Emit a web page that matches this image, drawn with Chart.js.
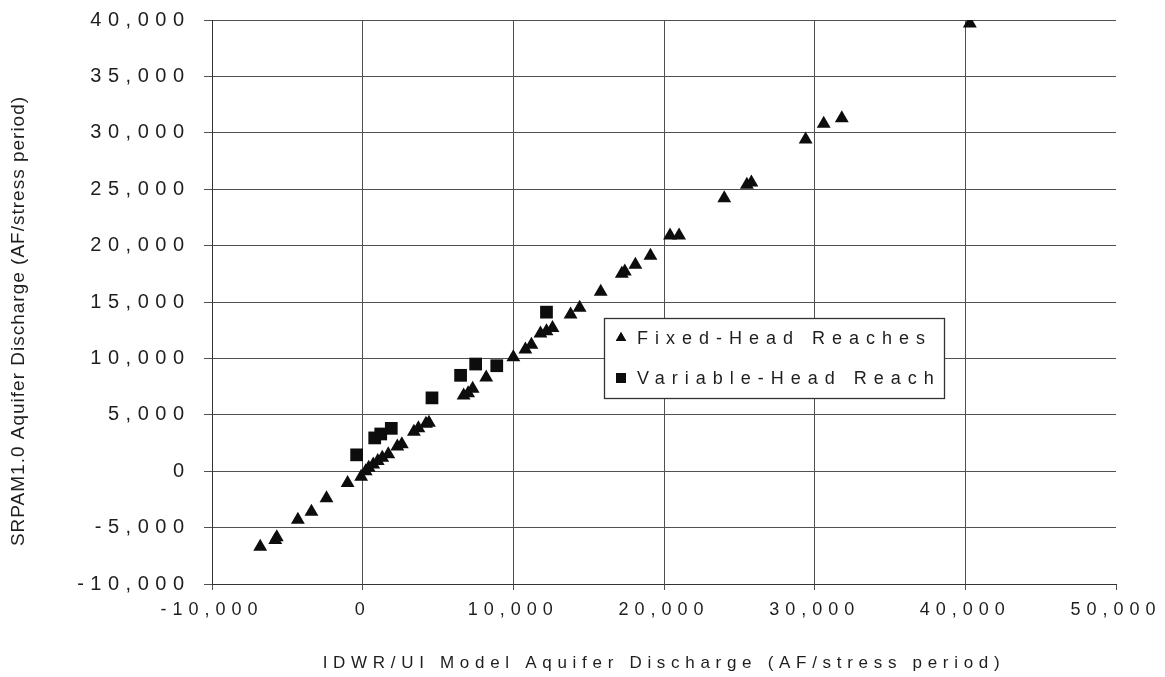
<!DOCTYPE html>
<html>
<head>
<meta charset="utf-8">
<script src="https://cdn.jsdelivr.net/npm/chart.js@4.4.1/dist/chart.umd.min.js"></script>
<style>
  html, body { margin: 0; padding: 0; background: #ffffff; }
  #wrap { width: 1165px; height: 677px; }
</style>
</head>
<body>
<div id="wrap"><canvas id="c" width="1165" height="677"></canvas></div>
<script>
// ---- Data ----
const fixedLabel = 'Fixed-Head Reaches';
const fixedX = [-6800, -5800, -5700, -4300, -3400, -2400, -1000, -100, 200, 400, 700, 1000, 1300, 1700,
  2300, 2600, 3400, 3700, 4200, 4400, 6700, 7000, 7300, 8200, 10000, 10800, 11200, 11800, 12200, 12600,
  13800, 14400, 15800, 17200, 17400, 18100, 19100, 20400, 21000, 24000, 25500, 25800, 29400, 30600, 31800, 40300];
const fixedY = [-6700, -6100, -5850, -4300, -3600, -2400, -1050, -500, 0, 300, 600, 900, 1200, 1500,
  2200, 2400, 3500, 3800, 4200, 4300, 6700, 6900, 7300, 8300, 10100, 10800, 11200, 12200, 12400, 12700,
  13900, 14500, 15900, 17500, 17700, 18300, 19100, 20900, 20900, 24200, 25400, 25600, 29400, 30800, 31300, 39700];

const variableLabel = 'Variable-Head Reach';
const variableX = [-400, 800, 1200, 1900, 4600, 6500, 7500, 8900, 12200];
const variableY = [1450, 2950, 3300, 3800, 6500, 8500, 9500, 9350, 14100];

const xTickValues = [-10000, 0, 10000, 20000, 30000, 40000, 50000];
const yTickValues = [-10000, -5000, 0, 5000, 10000, 15000, 20000, 25000, 30000, 35000, 40000];

const xTitle = 'IDWR/UI Model Aquifer Discharge (AF/stress period)';
const yTitle = 'SRPAM1.0 Aquifer Discharge (AF/stress period)';

// ---- Styling ----
const FONT = 'Arial, "Liberation Sans", sans-serif';
const TEXT = '#1e1e1e';
const GRID = '#505050';
const MARK = '#0d0d0d';

const fmt = v => Number(v).toLocaleString('en-US');

function wrapMethod(scale, name, spacing, dy) {
  const flag = '_wrapped_' + name;
  if (!scale || scale[flag]) return;
  const orig = scale[name].bind(scale);
  scale[name] = function (...a) {
    const c = this.ctx;
    c.save();
    c.letterSpacing = spacing;
    if (dy) c.translate(0, dy);
    orig(...a);
    c.restore();
  };
  scale[flag] = true;
}

const spacingPlugin = {
  id: 'spacing',
  beforeDraw(chart) {
    wrapMethod(chart.scales.y, 'drawTitle', '1px', 19);
    wrapMethod(chart.scales.x, 'drawTitle', '5.7px', 0);
    wrapMethod(chart.scales.y, 'drawLabels', '6.5px', 0);
    wrapMethod(chart.scales.x, 'drawLabels', '6px', 0);
  }
};

const boxLegendPlugin = {
  id: 'boxLegend',
  afterDraw(chart, args, opts) {
    const ctx = chart.ctx;
    ctx.save();
    ctx.letterSpacing = '0px';
    ctx.fillStyle = '#ffffff';
    ctx.fillRect(opts.left, opts.top, opts.width, opts.height);
    ctx.strokeStyle = '#333333';
    ctx.lineWidth = 1.3;
    ctx.strokeRect(opts.left + 0.5, opts.top + 0.5, opts.width, opts.height);
    chart.data.datasets.forEach((ds, i) => {
      const cy = opts.top + opts.firstRow + i * opts.rowGap;
      ctx.fillStyle = MARK;
      ctx.strokeStyle = MARK;
      Chart.helpers.drawPoint(ctx, { pointStyle: ds.pointStyle, radius: opts.markerRadius[i], borderWidth: 0, rotation: 0 },
        opts.left + opts.markerX, cy);
      ctx.fill();
      ctx.letterSpacing = opts.letterSpacing;
      ctx.font = opts.font;
      ctx.fillStyle = TEXT;
      ctx.textAlign = 'left';
      ctx.textBaseline = 'middle';
      ctx.fillText(ds.label, opts.left + opts.textX, cy + 1);
      ctx.letterSpacing = '0px';
    });
    ctx.restore();
  }
};

new Chart(document.getElementById('c'), {
  type: 'scatter',
  data: {
    datasets: [
      {
        label: fixedLabel,
        data: fixedX.map((x, i) => ({ x: x, y: fixedY[i] })),
        pointStyle: 'triangle',
        pointRadius: 8,
        pointHoverRadius: 8,
        backgroundColor: MARK,
        borderColor: MARK,
        borderWidth: 0
      },
      {
        label: variableLabel,
        data: variableX.map((x, i) => ({ x: x, y: variableY[i] })),
        pointStyle: 'rect',
        pointRadius: 9,
        pointHoverRadius: 9,
        backgroundColor: MARK,
        borderColor: MARK,
        borderWidth: 0
      }
    ]
  },
  options: {
    responsive: false,
    devicePixelRatio: 1,
    animation: false,
    events: [],
    layout: { padding: { left: 0, right: 49, top: 20, bottom: 0 } },
    plugins: {
      legend: { display: false },
      tooltip: { enabled: false },
      boxLegend: {
        left: 604, top: 318, width: 340, height: 80,
        firstRow: 20, rowGap: 40, markerX: 17, textX: 33,
        markerRadius: [6, 7],
        font: '18px ' + FONT,
        letterSpacing: '7px'
      }
    },
    scales: {
      x: {
        type: 'linear',
        min: -10000,
        max: 50000,
        afterBuildTicks: s => { s.ticks = xTickValues.map(v => ({ value: v })); },
        afterFit: s => { s.height = 93; },
        ticks: {
          callback: v => fmt(v),
          font: { family: FONT, size: 18 },
          color: TEXT,
          padding: 9,
          maxRotation: 0,
          autoSkip: false
        },
        grid: {
          color: c => (c.tick && c.tick.value === 50000) ? 'rgba(0,0,0,0)' : GRID,
          tickColor: GRID,
          tickLength: 6,
          lineWidth: 1
        },
        border: { display: true, color: '#333333', width: 1 },
        title: {
          display: true,
          text: xTitle,
          font: { family: FONT, size: 17 },
          color: TEXT,
          padding: { top: 0, bottom: 3 }
        }
      },
      y: {
        type: 'linear',
        min: -10000,
        max: 40000,
        afterBuildTicks: s => { s.ticks = yTickValues.map(v => ({ value: v })); },
        afterFit: s => { s.width = 212; s.paddingTop = 0; s.paddingBottom = 0; },
        ticks: {
          callback: v => fmt(v),
          font: { family: FONT, size: 20 },
          color: TEXT,
          padding: 13.5,
          autoSkip: false
        },
        grid: {
          color: GRID,
          tickColor: GRID,
          tickLength: 8,
          lineWidth: 1
        },
        border: { display: true, color: '#333333', width: 1 },
        title: {
          display: true,
          text: yTitle,
          font: { family: FONT, size: 19 },
          color: TEXT,
          padding: { top: 7, bottom: 0 }
        }
      }
    }
  },
  plugins: [spacingPlugin, boxLegendPlugin]
});
</script>
</body>
</html>
